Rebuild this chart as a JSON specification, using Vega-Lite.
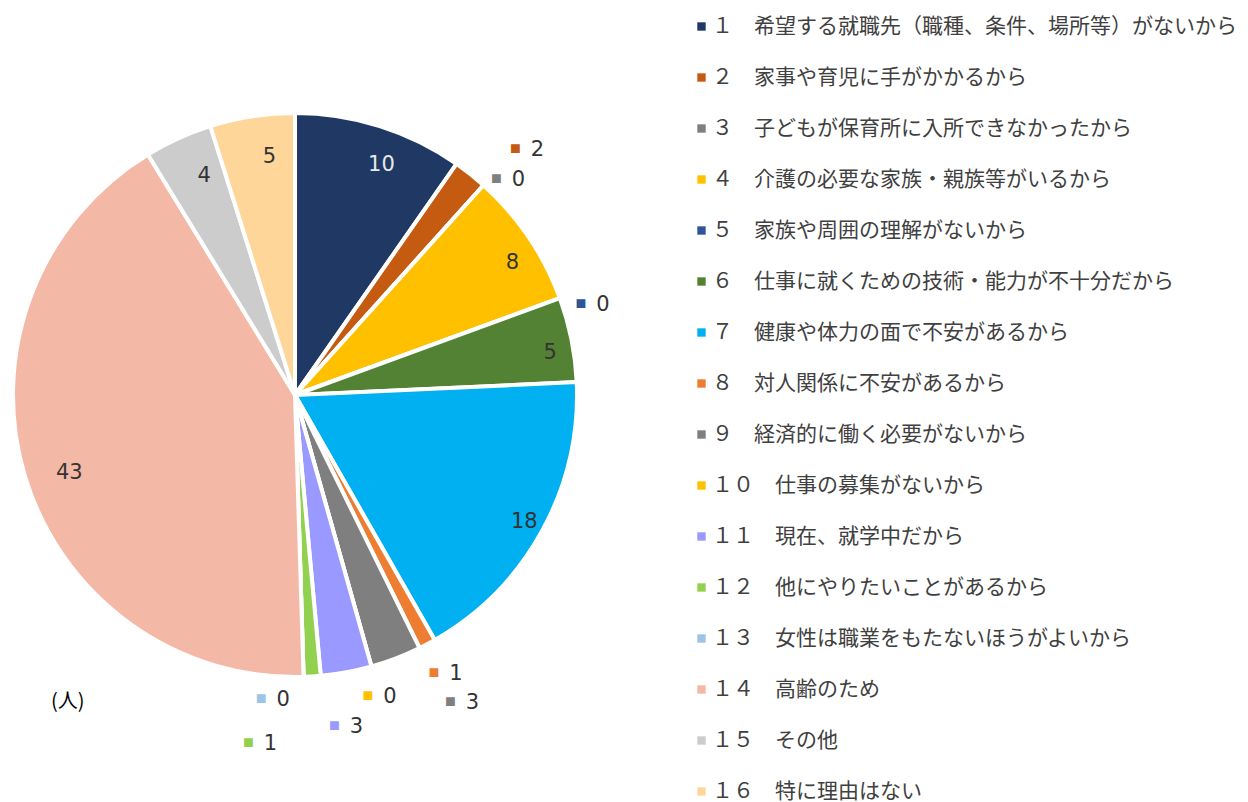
{
  "$schema": "https://vega.github.io/schema/vega-lite/v6.json",
  "width": 590,
  "height": 790,
  "autosize": {"type": "none"},
  "padding": {"left": 0, "top": 0, "right": 658, "bottom": 12},
  "background": "white",
  "view": {"stroke": null},
  "title": {"text": "(人)", "orient": "bottom", "anchor": "start", "frame": "group", "offset": -110, "dx": 51, "fontSize": 20, "fontWeight": "normal", "font": "Noto Sans CJK JP", "color": "#000000"},
  "data": {"values": [
    {"k": 1, "label": "１　希望する就職先（職種、条件、場所等）がないから", "v": 10},
    {"k": 2, "label": "２　家事や育児に手がかかるから", "v": 2},
    {"k": 3, "label": "３　子どもが保育所に入所できなかったから", "v": 0},
    {"k": 4, "label": "４　介護の必要な家族・親族等がいるから", "v": 8},
    {"k": 5, "label": "５　家族や周囲の理解がないから", "v": 0},
    {"k": 6, "label": "６　仕事に就くための技術・能力が不十分だから", "v": 5},
    {"k": 7, "label": "７　健康や体力の面で不安があるから", "v": 18},
    {"k": 8, "label": "８　対人関係に不安があるから", "v": 1},
    {"k": 9, "label": "９　経済的に働く必要がないから", "v": 3},
    {"k": 10, "label": "１０　仕事の募集がないから", "v": 0},
    {"k": 11, "label": "１１　現在、就学中だから", "v": 3},
    {"k": 12, "label": "１２　他にやりたいことがあるから", "v": 1},
    {"k": 13, "label": "１３　女性は職業をもたないほうがよいから", "v": 0},
    {"k": 14, "label": "１４　高齢のため", "v": 43},
    {"k": 15, "label": "１５　その他", "v": 4},
    {"k": 16, "label": "１６　特に理由はない", "v": 5}
  ]},
  "encoding": {
    "theta": {"field": "v", "type": "quantitative", "stack": true},
    "order": {"field": "k", "type": "quantitative"}
  },
  "layer": [
    {
      "mark": {"type": "arc", "outerRadius": 282, "stroke": "white", "strokeWidth": 4},
      "encoding": {
        "color": {
          "field": "label", "type": "nominal", "sort": null,
          "scale": {
            "domain": ["１　希望する就職先（職種、条件、場所等）がないから", "２　家事や育児に手がかかるから", "３　子どもが保育所に入所できなかったから", "４　介護の必要な家族・親族等がいるから", "５　家族や周囲の理解がないから", "６　仕事に就くための技術・能力が不十分だから", "７　健康や体力の面で不安があるから", "８　対人関係に不安があるから", "９　経済的に働く必要がないから", "１０　仕事の募集がないから", "１１　現在、就学中だから", "１２　他にやりたいことがあるから", "１３　女性は職業をもたないほうがよいから", "１４　高齢のため", "１５　その他", "１６　特に理由はない"],
            "range": ["#1F3864", "#C55A11", "#7F7F7F", "#FFC000", "#2F5597", "#548235", "#00B0F0", "#ED7D31", "#7F7F7F", "#FFC000", "#9999FF", "#92D050", "#9DC3E6", "#F4B9A6", "#CCCCCC", "#FFD699"]
          },
          "legend": {
            "title": null, "orient": "none", "legendX": 691, "legendY": 16,
            "symbolType": "square", "symbolSize": 70, "symbolStrokeWidth": 0,
            "labelFont": "Noto Sans CJK JP", "labelFontSize": 21, "labelColor": "#404040",
            "labelLimit": 0, "labelOffset": 0, "rowPadding": 29.0, "symbolOpacity": 1
          }
        }
      }
    },
    {
      "mark": {"type": "text", "radius": 248, "dx": 12, "dy": 7, "font": "DejaVu Sans", "fontSize": 21, "baseline": "middle", "align": "center"},
      "encoding": {
        "text": {"condition": {"test": "datum.v >= 4", "field": "v", "type": "quantitative"}, "value": ""},
        "color": {"condition": {"test": "datum.k == 1", "value": "#E8E8E8"}, "value": "#333333"}
      }
    },
    {
      "mark": {"type": "text", "radius": 345, "dx": 28, "dy": 25, "font": "DejaVu Sans", "fontSize": 21, "baseline": "middle", "align": "center", "color": "#333333"},
      "encoding": {"text": {"condition": {"test": "datum.k == 2", "field": "v", "type": "quantitative"}, "value": ""}}
    },
    {
      "mark": {"type": "text", "radius": 345, "dx": 6, "dy": 24, "fontSize": 18, "baseline": "middle", "align": "center"},
      "encoding": {"text": {"condition": {"test": "datum.k == 2", "value": "■"}, "value": ""}, "color": {"field": "label", "type": "nominal", "sort": null}}
    },
    {
      "mark": {"type": "text", "radius": 312, "dx": 15, "dy": 17, "font": "DejaVu Sans", "fontSize": 21, "baseline": "middle", "align": "center", "color": "#333333"},
      "encoding": {"text": {"condition": {"test": "datum.k == 3 || datum.k == 5", "field": "v", "type": "quantitative"}, "value": ""}}
    },
    {
      "mark": {"type": "text", "radius": 312, "dx": -7, "dy": 16, "fontSize": 18, "baseline": "middle", "align": "center"},
      "encoding": {"text": {"condition": {"test": "datum.k == 3 || datum.k == 5", "value": "■"}, "value": ""}, "color": {"field": "label", "type": "nominal", "sort": null}}
    },
    {
      "mark": {"type": "text", "radius": 322, "dx": 10, "dy": -5, "font": "DejaVu Sans", "fontSize": 21, "baseline": "middle", "align": "center", "color": "#333333"},
      "encoding": {"text": {"condition": {"test": "datum.k == 8", "field": "v", "type": "quantitative"}, "value": ""}}
    },
    {
      "mark": {"type": "text", "radius": 322, "dx": -12, "dy": -6, "fontSize": 18, "baseline": "middle", "align": "center"},
      "encoding": {"text": {"condition": {"test": "datum.k == 8", "value": "■"}, "value": ""}, "color": {"field": "label", "type": "nominal", "sort": null}}
    },
    {
      "mark": {"type": "text", "radius": 356, "dx": 50, "dy": -24, "font": "DejaVu Sans", "fontSize": 21, "baseline": "middle", "align": "center", "color": "#333333"},
      "encoding": {"text": {"condition": {"test": "datum.k == 9", "field": "v", "type": "quantitative"}, "value": ""}}
    },
    {
      "mark": {"type": "text", "radius": 356, "dx": 28, "dy": -25, "fontSize": 18, "baseline": "middle", "align": "center"},
      "encoding": {"text": {"condition": {"test": "datum.k == 9", "value": "■"}, "value": ""}, "color": {"field": "label", "type": "nominal", "sort": null}}
    },
    {
      "mark": {"type": "text", "radius": 317, "dx": 9, "dy": -3, "font": "DejaVu Sans", "fontSize": 21, "baseline": "middle", "align": "center", "color": "#333333"},
      "encoding": {"text": {"condition": {"test": "datum.k == 10", "field": "v", "type": "quantitative"}, "value": ""}}
    },
    {
      "mark": {"type": "text", "radius": 317, "dx": -13, "dy": -4, "fontSize": 18, "baseline": "middle", "align": "center"},
      "encoding": {"text": {"condition": {"test": "datum.k == 10", "value": "■"}, "value": ""}, "color": {"field": "label", "type": "nominal", "sort": null}}
    },
    {
      "mark": {"type": "text", "radius": 338, "font": "DejaVu Sans", "fontSize": 21, "baseline": "middle", "align": "center", "color": "#333333"},
      "encoding": {"text": {"condition": {"test": "datum.k == 11", "field": "v", "type": "quantitative"}, "value": ""}}
    },
    {
      "mark": {"type": "text", "radius": 338, "dx": -22, "dy": -1, "fontSize": 18, "baseline": "middle", "align": "center"},
      "encoding": {"text": {"condition": {"test": "datum.k == 11", "value": "■"}, "value": ""}, "color": {"field": "label", "type": "nominal", "sort": null}}
    },
    {
      "mark": {"type": "text", "radius": 350, "dx": -46, "font": "DejaVu Sans", "fontSize": 21, "baseline": "middle", "align": "center", "color": "#333333"},
      "encoding": {"text": {"condition": {"test": "datum.k == 12", "field": "v", "type": "quantitative"}, "value": ""}}
    },
    {
      "mark": {"type": "text", "radius": 350, "dx": -68, "dy": -1, "fontSize": 18, "baseline": "middle", "align": "center"},
      "encoding": {"text": {"condition": {"test": "datum.k == 12", "value": "■"}, "value": ""}, "color": {"field": "label", "type": "nominal", "sort": null}}
    },
    {
      "mark": {"type": "text", "radius": 305, "dx": -21, "font": "DejaVu Sans", "fontSize": 21, "baseline": "middle", "align": "center", "color": "#333333"},
      "encoding": {"text": {"condition": {"test": "datum.k == 13", "field": "v", "type": "quantitative"}, "value": ""}}
    },
    {
      "mark": {"type": "text", "radius": 305, "dx": -43, "dy": -1, "fontSize": 18, "baseline": "middle", "align": "center"},
      "encoding": {"text": {"condition": {"test": "datum.k == 13", "value": "■"}, "value": ""}, "color": {"field": "label", "type": "nominal", "sort": null}}
    }
  ]
}
